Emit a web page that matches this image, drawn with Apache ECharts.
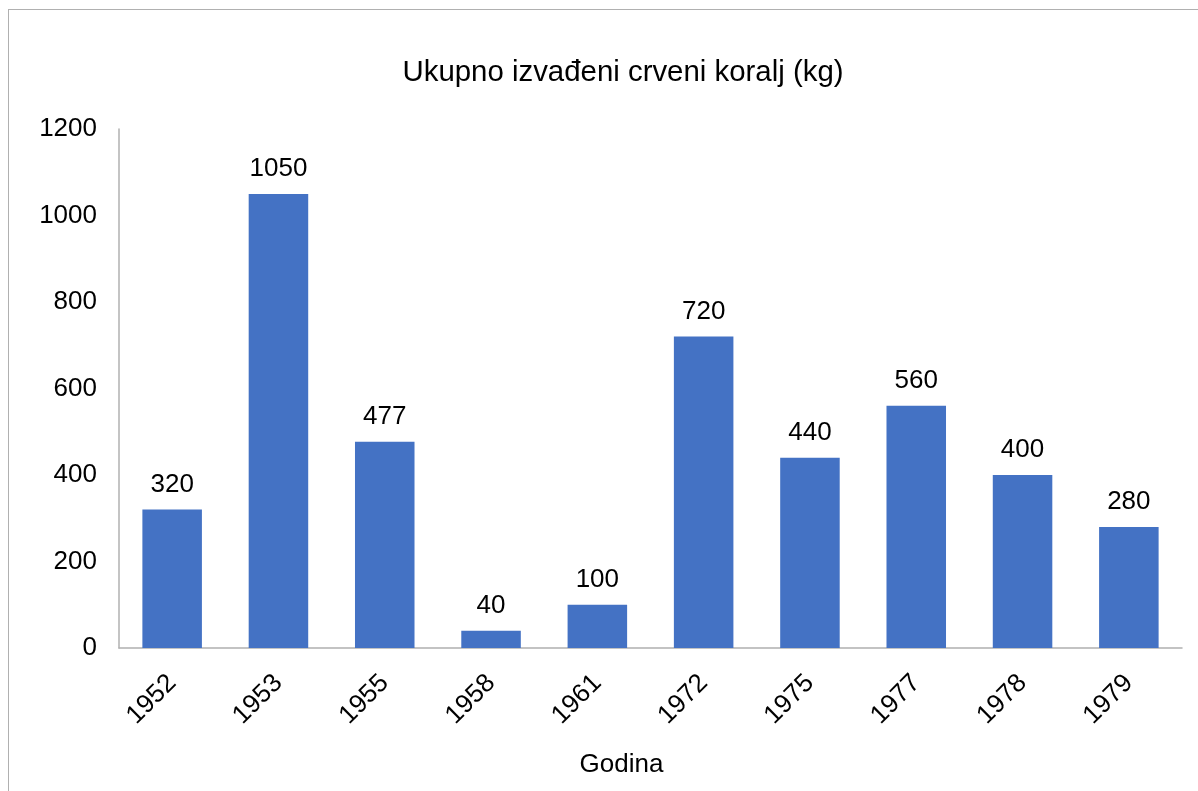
<!DOCTYPE html>
<html>
<head>
<meta charset="utf-8">
<script src="https://cdn.jsdelivr.net/npm/echarts@6/dist/echarts.min.js"></script>
<style>
  html, body { margin: 0; padding: 0; background: #fff; }
  #frame { position: absolute; left: 8px; top: 9px; width: 1300px; height: 900px; border: 1px solid #b0b0b0; }
  #chart { position: absolute; left: 0; top: 0; width: 1198px; height: 791px; }
</style>
</head>
<body>
<div id="frame"></div>
<div id="chart"></div>
<script>
const years = ['1952', '1953', '1955', '1958', '1961', '1972', '1975', '1977', '1978', '1979'];
const kilos = [320, 1050, 477, 40, 100, 720, 440, 560, 400, 280];

const chart = echarts.init(document.getElementById('chart'));
const font = '"Liberation Sans", Arial, sans-serif';

chart.setOption({
    animation: false,
    title: {
        text: 'Ukupno izvađeni crveni koralj (kg)',
        left: 618,
        textAlign: 'center',
        top: 53,
        textStyle: { fontFamily: font, fontSize: 29.4, fontWeight: 'normal', color: '#000' }
    },
    grid: { left: 119, right: 16, top: 129, bottom: 143 },
    xAxis: {
        type: 'category',
        data: years,
        name: 'Godina',
        nameLocation: 'middle',
        nameGap: 104,
        nameTextStyle: { fontFamily: font, fontSize: 26, color: '#000', padding: [0, 58, 0, 0] },
        axisLine: { lineStyle: { color: '#b0b0b0', width: 1.5 } },
        axisTick: { show: false },
        axisLabel: { rotate: 45, margin: 31, fontFamily: font, fontSize: 26, color: '#000' }
    },
    yAxis: {
        type: 'value',
        min: 0,
        max: 1200,
        interval: 200,
        axisLine: { show: true, lineStyle: { color: '#b0b0b0', width: 1.5 } },
        axisTick: { show: false },
        splitLine: { show: false },
        axisLabel: { margin: 22, fontFamily: font, fontSize: 26, color: '#000', formatter: v => String(v) }
    },
    series: [{
        type: 'bar',
        data: kilos,
        barCategoryGap: '44%',
        itemStyle: { color: '#4472C4' },
        label: { show: true, position: 'top', distance: 12, fontFamily: font, fontSize: 26, color: '#000' }
    }]
});
</script>
</body>
</html>
